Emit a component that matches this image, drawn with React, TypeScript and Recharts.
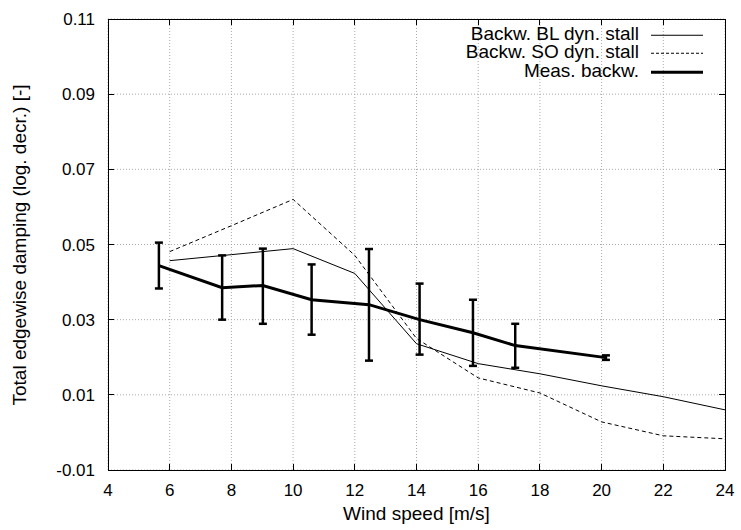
import React from 'react';
import { ComposedChart, Line, XAxis, YAxis, CartesianGrid, ErrorBar } from 'recharts';

// Axis ticks
const windTicks = [4, 6, 8, 10, 12, 14, 16, 18, 20, 22, 24];
const dampingTicks = [-0.01, 0.01, 0.03, 0.05, 0.07, 0.09, 0.11];

// Backward whirling mode, Beddoes-Leishman dynamic stall model
const blWind = [6, 8, 10, 12, 14, 16, 18, 20, 22, 24];
const blDamping = [0.0457, 0.0473, 0.0489, 0.0423, 0.0236, 0.0183, 0.0156, 0.0124, 0.0095, 0.006];

// Backward whirling mode, Stig Øye dynamic stall model
const soWind = [6, 8, 10, 12, 14, 16, 18, 20, 22, 24];
const soDamping = [0.0481, 0.055, 0.062, 0.0471, 0.025, 0.0145, 0.0105, 0.0028, -0.0009, -0.0017];

// Measured backward whirling damping with min / max spread
const measWind = [5.65, 7.7, 9.02, 10.6, 12.46, 14.1, 15.83, 17.2, 20.14];
const measDamping = [0.0444, 0.0385, 0.0391, 0.0353, 0.034, 0.03, 0.0265, 0.0231, 0.0199];
const measLow = [0.0383, 0.03, 0.0289, 0.026, 0.0191, 0.0207, 0.0177, 0.0172, 0.0193];
const measHigh = [0.0505, 0.0471, 0.0489, 0.0447, 0.0488, 0.0396, 0.0353, 0.0289, 0.0205];

const legendItems = [
  { label: 'Backw. BL dyn. stall', width: 1, dash: undefined as string | undefined },
  { label: 'Backw. SO dyn. stall', width: 1, dash: '3 2' },
  { label: 'Meas. backw.', width: 3, dash: undefined as string | undefined },
];

const blData = blWind.map((x, i) => ({ x, y: blDamping[i] }));
const soData = soWind.map((x, i) => ({ x, y: soDamping[i] }));
const measData = measWind.map((x, i) => ({
  x,
  y: measDamping[i],
  err: [measDamping[i] - measLow[i], measHigh[i] - measDamping[i]],
}));

const FONT = '"Liberation Sans", Arial, Helvetica, sans-serif';
const W = 741;
const H = 530;
const BOTTOM_GAP = 14;
const LEFT_GAP = 13;
const TICK_FONT = 17;
const TICK_LEN = 6;

// plot box (follows from the chart margins and axis sizes below)
const MARGIN = { top: 19, right: 16, bottom: 30, left: 48 };
const X_AXIS_H = 30;
const Y_AXIS_W = 60;
const PLOT_L = MARGIN.left + Y_AXIS_W;
const PLOT_R = W - MARGIN.right;
const PLOT_T = MARGIN.top;
const PLOT_B = H - MARGIN.bottom - X_AXIS_H;

const X_MIN = windTicks[0];
const X_MAX = windTicks[windTicks.length - 1];
const Y_MIN = dampingTicks[0];
const Y_MAX = dampingTicks[dampingTicks.length - 1];
const px = (v: number) => PLOT_L + ((v - X_MIN) / (X_MAX - X_MIN)) * (PLOT_R - PLOT_L);
const py = (v: number) => PLOT_B - ((v - Y_MIN) / (Y_MAX - Y_MIN)) * (PLOT_B - PLOT_T);

const fmtDamping = (v: number) => (v < 0 ? '-' + Math.abs(v).toFixed(2) : v.toFixed(2));

const BottomTick = (p: any) => (
  <text x={p.x} y={p.y} dy={12.2} textAnchor="middle" fontSize={TICK_FONT} fontFamily={FONT} fill="#000">
    {p.payload.value}
  </text>
);
const LeftTick = (p: any) => (
  <text x={p.x} y={p.y} dy={6} textAnchor="end" fontSize={TICK_FONT} fontFamily={FONT} fill="#000">
    {fmtDamping(p.payload.value)}
  </text>
);

// gnuplot-style border with inward, mirrored tick marks
function Frame() {
  return (
    <svg
      width={W}
      height={H}
      style={{ position: 'absolute', left: 0, top: 0, pointerEvents: 'none' }}
      shapeRendering="crispEdges"
    >
      <rect
        x={PLOT_L}
        y={PLOT_T}
        width={PLOT_R - PLOT_L}
        height={PLOT_B - PLOT_T}
        fill="none"
        stroke="#000"
        strokeWidth={1}
      />
      {windTicks.map((t) => (
        <g key={'x' + t}>
          <line x1={px(t)} x2={px(t)} y1={PLOT_B} y2={PLOT_B - TICK_LEN} stroke="#000" />
          <line x1={px(t)} x2={px(t)} y1={PLOT_T} y2={PLOT_T + TICK_LEN} stroke="#000" />
        </g>
      ))}
      {dampingTicks.map((t) => (
        <g key={'y' + t}>
          <line x1={PLOT_L} x2={PLOT_L + TICK_LEN} y1={py(t)} y2={py(t)} stroke="#000" />
          <line x1={PLOT_R} x2={PLOT_R - TICK_LEN} y1={py(t)} y2={py(t)} stroke="#000" />
        </g>
      ))}
    </svg>
  );
}

export default function App() {
  return (
    <div style={{ position: 'absolute', left: 0, top: 0, width: W, height: H, background: '#fff', fontFamily: FONT }}>
      <ComposedChart width={W} height={H} margin={MARGIN}>
        <CartesianGrid stroke="#aaa" strokeDasharray="1 2" strokeWidth={1} />
        <XAxis
          dataKey="x"
          type="number"
          domain={[X_MIN, X_MAX]}
          ticks={windTicks}
          allowDataOverflow
          height={X_AXIS_H}
          axisLine={false}
          tickLine={false}
          tickSize={0}
          tickMargin={BOTTOM_GAP}
          tick={BottomTick}
        />
        <YAxis
          type="number"
          domain={[Y_MIN, Y_MAX]}
          ticks={dampingTicks}
          allowDataOverflow
          width={Y_AXIS_W}
          axisLine={false}
          tickLine={false}
          tickSize={0}
          tickMargin={LEFT_GAP}
          tick={LeftTick}
        />
        <Line
          data={blData}
          dataKey="y"
          stroke="#000"
          strokeWidth={1}
          dot={false}
          activeDot={false}
          isAnimationActive={false}
        />
        <Line
          data={soData}
          dataKey="y"
          stroke="#000"
          strokeWidth={1}
          strokeDasharray="4 3"
          dot={false}
          activeDot={false}
          isAnimationActive={false}
        />
        <Line
          data={measData}
          dataKey="y"
          stroke="#000"
          strokeWidth={3}
          dot={false}
          activeDot={false}
          isAnimationActive={false}
        >
          <ErrorBar dataKey="err" direction="y" width={4} stroke="#000" strokeWidth={2.5} isAnimationActive={false} />
        </Line>
      </ComposedChart>

      <Frame />

      {/* axis titles */}
      <div
        style={{
          position: 'absolute',
          left: PLOT_L,
          width: PLOT_R - PLOT_L,
          top: 502,
          lineHeight: '24px',
          fontSize: 19,
          textAlign: 'center',
          color: '#000',
          whiteSpace: 'nowrap',
        }}
      >
        Wind speed [m/s]
      </div>
      <div
        style={{
          position: 'absolute',
          left: 20 - 225,
          top: (PLOT_T + PLOT_B) / 2 - 12,
          width: 450,
          height: 24,
          lineHeight: '24px',
          fontSize: 19,
          textAlign: 'center',
          color: '#000',
          whiteSpace: 'nowrap',
          transform: 'rotate(-90deg)',
        }}
      >
        Total edgewise damping (log. decr.) [-]
      </div>

      {/* legend */}
      <div style={{ position: 'absolute', right: W - 703, top: 24.75 }}>
        {legendItems.map((item) => (
          <div
            key={item.label}
            style={{
              display: 'flex',
              justifyContent: 'flex-end',
              alignItems: 'flex-start',
              height: 18.7,
              lineHeight: '18.7px',
              fontSize: 19,
              color: '#000',
              whiteSpace: 'nowrap',
            }}
          >
            <span>{item.label}</span>
            <svg width={64} height={18.7} style={{ display: 'block' }}>
              <line
                x1={12}
                x2={64}
                y1={10.25}
                y2={10.25}
                stroke="#000"
                strokeWidth={item.width}
                strokeDasharray={item.dash}
              />
            </svg>
          </div>
        ))}
      </div>
    </div>
  );
}
